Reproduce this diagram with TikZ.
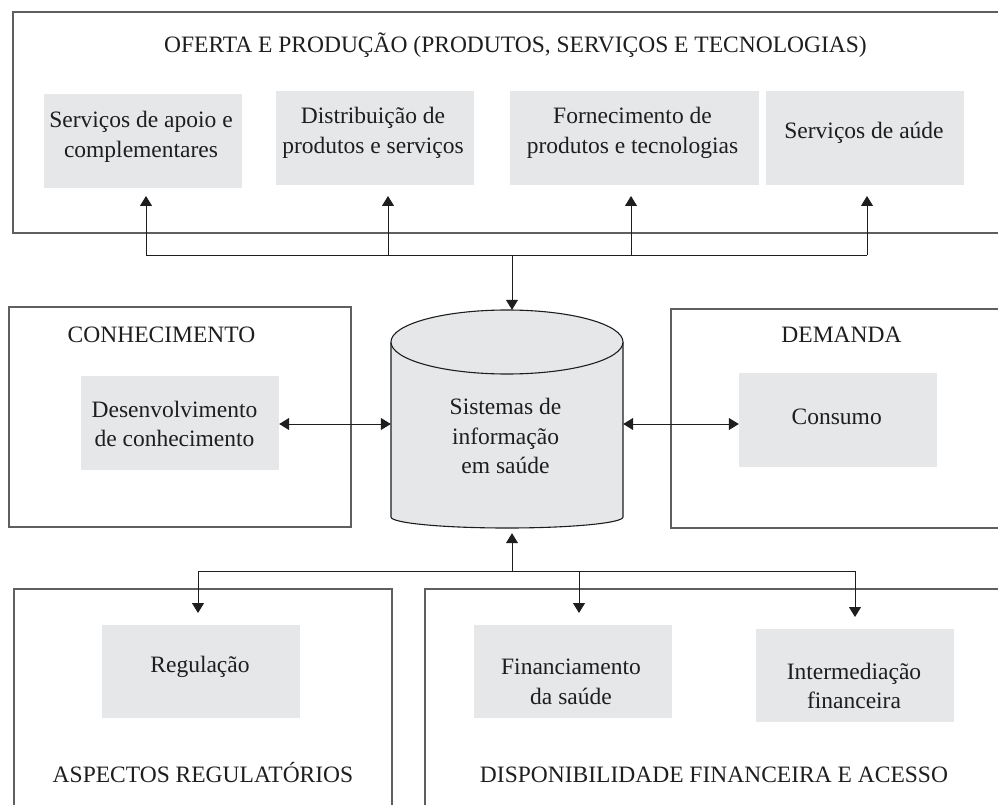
\documentclass[tikz,border=0pt]{standalone}
\usepackage{fontspec}
\setmainfont{Liberation Serif}
\usetikzlibrary{arrows.meta}
\definecolor{boxgray}{RGB}{230,231,232}
\definecolor{framecol}{RGB}{95,95,95}
\definecolor{inkcol}{RGB}{30,30,30}
\begin{document}
\begin{tikzpicture}[x=1pt,y=-1pt,
  frame/.style={draw=framecol, line width=1.3pt},
  gbox/.style={fill=boxgray, draw=none, inner sep=0pt, minimum width=198pt, minimum height=94pt},
  txt/.style={align=center, font=\fontsize{23.5}{29.5}\selectfont, inner sep=0pt, text=inkcol},
  ttl/.style={font=\fontsize{23.5}{29}\selectfont, inner sep=0pt, anchor=base, text=inkcol},
  conn/.style={draw=inkcol, line width=1pt},
  arr/.style={conn, -{Triangle[width=12pt,length=10pt]}},
  darr/.style={conn, {Triangle[width=12pt,length=10pt]}-{Triangle[width=12pt,length=10pt]}}
]
\useasboundingbox (0,0) rectangle (998,805);
\fill[white] (0,0) rectangle (998,805);

% frames
\draw[frame] (998,12) -- (13,12) -- (13,233) -- (998,233);
\draw[frame] (9,307) rectangle (351,527);
\draw[frame] (998,309) -- (671,309) -- (671,528) -- (998,528);
\draw[frame] (14,805) -- (14,589) -- (392,589) -- (392,805);
\draw[frame] (998,589) -- (425,589) -- (425,805);

% titles
\node[ttl] (tOferta) at (515.5,53) {OFERTA E PRODUÇÃO (PRODUTOS, SERVIÇOS E TECNOLOGIAS)};
\node[ttl] (tConh) at (161.5,342) {CONHECIMENTO};
\node[ttl] (tDem) at (841.5,342) {DEMANDA};
\node[ttl] (tAsp) at (203,782) {ASPECTOS REGULATÓRIOS};
\node[ttl] (tDisp) at (714,782) {DISPONIBILIDADE FINANCEIRA E ACESSO};

% gray boxes
\node[gbox] (g1) at (143,141) {};
\node[gbox] (g2) at (375,138) {};
\node[gbox, minimum width=249pt] (g3) at (634.5,138) {};
\node[gbox] (g4) at (865,138) {};
\node[gbox] (gd) at (180,423) {};
\node[gbox] (gc) at (838,420) {};
\node[gbox, minimum height=93pt] (gr) at (201,671.5) {};
\node[gbox, minimum height=93pt] (gf) at (573,671.5) {};
\node[gbox, minimum height=93pt] (gi) at (855,675.5) {};

\node[txt] (x1) at (141,137) {Serviços de apoio e\\complementares};
\node[txt] (x2) at (373,133) {Distribuição de\\produtos e serviços};
\node[txt] (x3) at (632.5,133) {Fornecimento de\\produtos e tecnologias};
\node[txt] (x4) at (864,133) {Serviços de aúde};
\node[txt] (xd) at (174.5,424) {Desenvolvimento\\de conhecimento};
\node[txt] (xc) at (836.7,417) {Consumo};
\node[txt] (xr) at (200,667) {Regulação};
\node[txt] (xf) at (571,682) {Financiamento\\da saúde};
\node[txt] (xi) at (854,686) {Intermediação\\financeira};

% cylinder
\fill[boxgray] (391,342) -- (391,517) arc[start angle=180, end angle=0, x radius=116, y radius=11]
  -- (623,342) arc[start angle=0, end angle=180, x radius=116, y radius=32] -- cycle;
\draw[inkcol, line width=1.1pt] (391,342) -- (391,517) arc[start angle=180, end angle=0, x radius=116, y radius=11] -- (623,342);
\draw[inkcol, line width=1.1pt, fill=boxgray] (507,342) ellipse [x radius=116, y radius=32];
\node[minimum width=232pt, minimum height=218pt, inner sep=0pt] (db) at (507,419) {};
\node[txt] (dbt) at (505.5,436) {Sistemas de\\informação\\em saúde};

% top connectors
\coordinate (hubT) at (512,255);
\coordinate (ta1) at (146,196);
\coordinate (ta2) at (388,196);
\coordinate (ta3) at (631,196);
\coordinate (ta4) at (867,196);
\draw[conn] (ta1 |- hubT) -- (ta4 |- hubT);
\draw[arr] (ta1 |- hubT) -- (ta1);
\draw[arr] (ta2 |- hubT) -- (ta2);
\draw[arr] (ta3 |- hubT) -- (ta3);
\draw[arr] (ta4 |- hubT) -- (ta4);
\draw[arr] (hubT) -- (hubT |- db.north);

% side connectors
\coordinate (lvl) at (0,424);
\draw[darr] (gd.east |- lvl) -- (db.west |- lvl);
\draw[darr] (db.east |- lvl) -- (gc.west |- lvl);

% bottom connectors
\coordinate (hubB) at (512,571);
\coordinate (tb1) at (198,613);
\coordinate (tb2) at (579,613);
\coordinate (tb3) at (855,617);
\draw[arr, shorten >=5pt] (hubB) -- (hubB |- db.south);
\draw[conn] (tb1 |- hubB) -- (tb3 |- hubB);
\draw[arr] (tb1 |- hubB) -- (tb1);
\draw[arr] (tb2 |- hubB) -- (tb2);
\draw[arr] (tb3 |- hubB) -- (tb3);
\end{tikzpicture}
\end{document}
